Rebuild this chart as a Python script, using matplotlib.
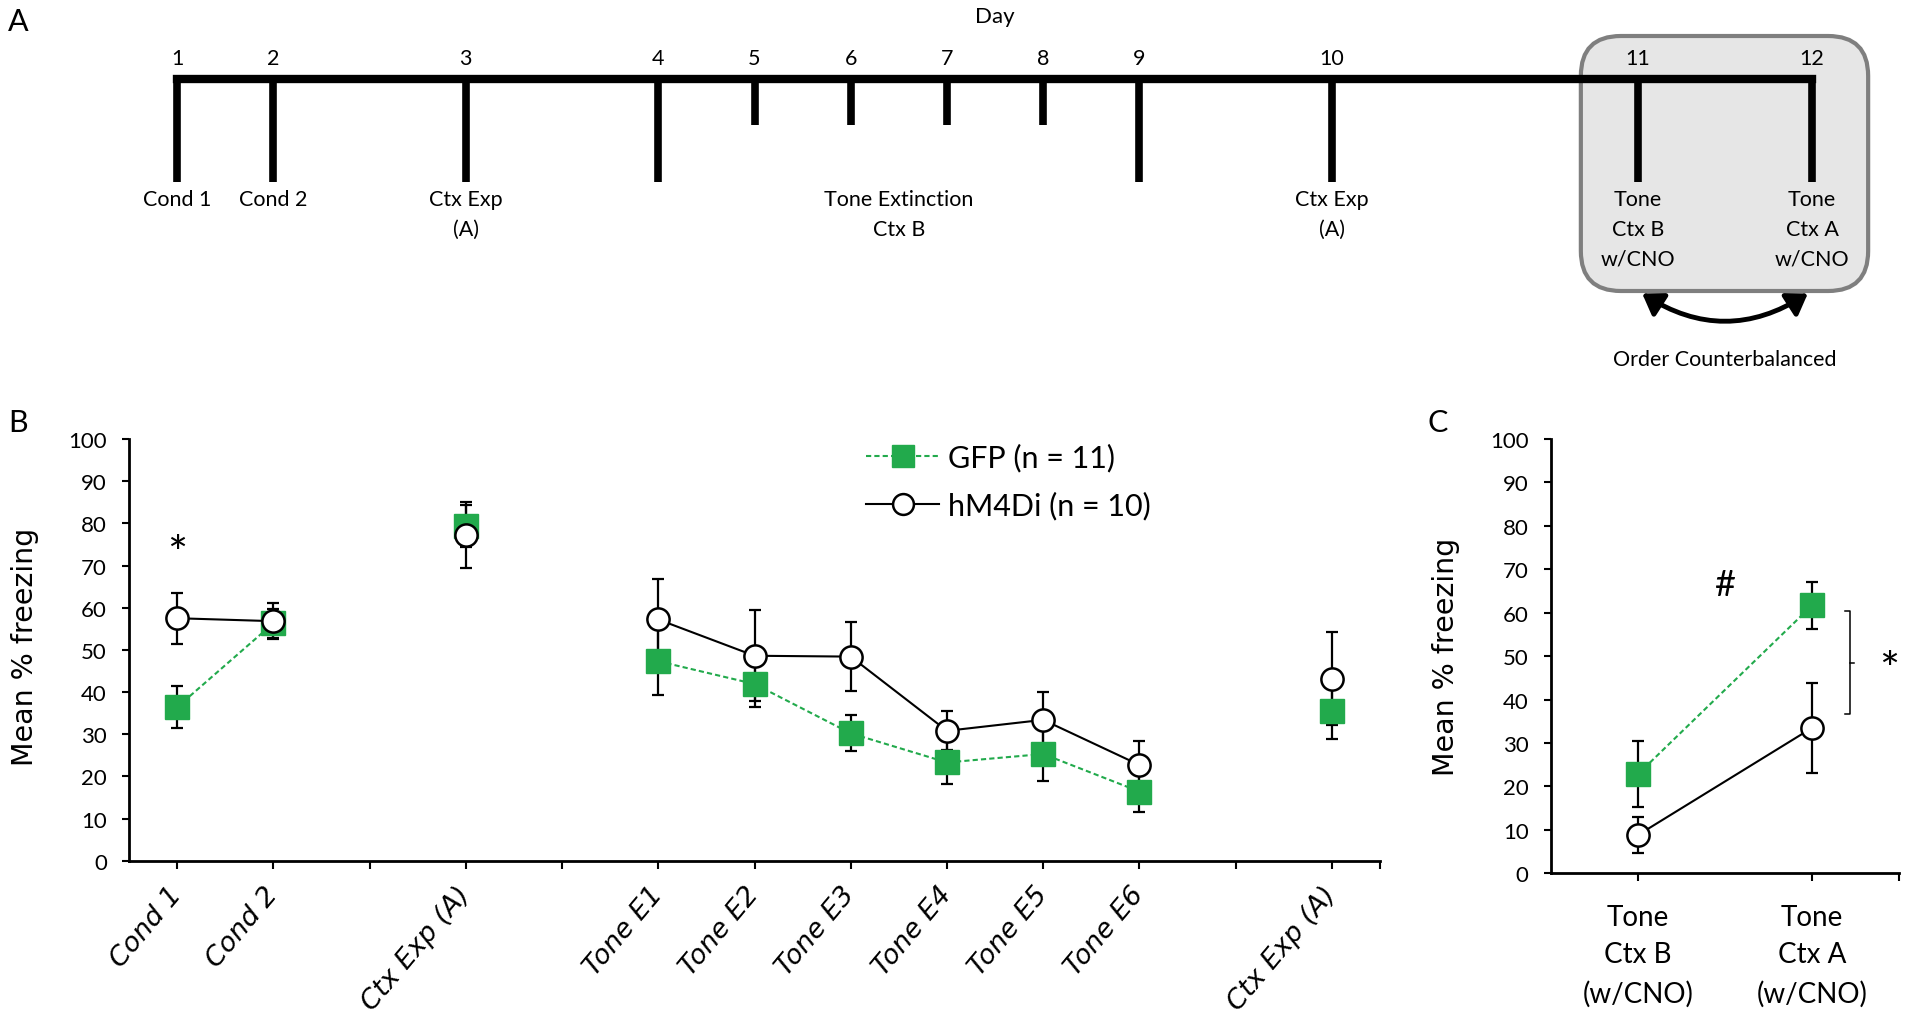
import matplotlib
matplotlib.use("Agg")
import matplotlib.pyplot as plt
from matplotlib.lines import Line2D
from matplotlib.patches import FancyBboxPatch, FancyArrowPatch
import numpy as np

W, H = 1911, 1020
GREEN = "#22aa4c"

# ---- panel B data (category positions, gaps left at 3, 5 and 12)
b_positions = [1, 2, 4, 6, 7, 8, 9, 10, 11, 13]
b_tick_labels = ["Cond 1", "Cond 2", "", "Ctx Exp (A)", "", "Tone E1", "Tone E2",
                 "Tone E3", "Tone E4", "Tone E5", "Tone E6", "", "Ctx Exp (A)"]
gfp_b = [36.4, 56.3, 79.4, 47.3, 41.9, 30.2, 23.3, 25.3, 16.4, 35.4]
gfp_b_err = [5.0, 3.5, 5.0, 8.0, 5.5, 4.3, 5.0, 6.5, 4.8, 6.6]
hm4di_b = [57.5, 56.8, 77.2, 57.2, 48.6, 48.4, 30.8, 33.4, 22.7, 43.2]
hm4di_b_err = [6.0, 4.2, 7.8, 9.6, 10.8, 8.2, 4.6, 6.5, 5.6, 11.0]

# ---- panel C data
c_positions = [1, 2]
c_tick_labels = ["Tone\nCtx B\n(w/CNO)", "Tone\nCtx A\n(w/CNO)"]
gfp_c = [22.8, 61.7]
gfp_c_err = [7.6, 5.4]
hm4di_c = [8.8, 33.5]
hm4di_c_err = [4.1, 10.4]

legend_labels = ["GFP (n = 11)", "hM4Di (n = 10)"]

# ---- panel A timeline
days = list(range(1, 13))
day_long = [True, True, True, True, False, False, False, False, True, True, True, True]
day_labels = {1: "Cond 1", 2: "Cond 2", 3: "Ctx Exp\n(A)", 10: "Ctx Exp\n(A)",
              11: "Tone\nCtx B\nw/CNO", 12: "Tone\nCtx A\nw/CNO"}
extinction_days = (4, 9)
extinction_label = "Tone Extinction\nCtx B"

plt.rcParams["font.family"] = ["Lato", "DejaVu Sans"]

fig = plt.figure(figsize=(W / 100, H / 100), dpi=100)
ax_b = fig.add_axes([129 / W, 1 - 861.7 / H, (1380 - 129) / W, (861.7 - 440) / H])
ax_c = fig.add_axes([1550.7 / W, 1 - 874.3 / H, (1899.3 - 1550.7) / W, (874.3 - 440) / H])


def style_axis(ax):
    for s in ("top", "right"):
        ax.spines[s].set_visible(False)
    for s in ("left", "bottom"):
        ax.spines[s].set_linewidth(2)
    ax.set_ylim(0, 100)
    ax.set_yticks(range(0, 101, 10))
    ax.tick_params(axis="y", length=5, width=1.5, pad=11, labelsize=16)
    ax.tick_params(axis="x", length=6, width=1.5)
    ax.set_ylabel("Mean % freezing", fontsize=20.5, family="DejaVu Sans")


def groups(pos):
    # consecutive category positions are joined by a line
    pos = np.asarray(pos)
    return np.split(np.arange(len(pos)), np.where(np.diff(pos) > 1)[0] + 1)


def draw_series(ax, pos, mean, err, kind, z):
    pos = np.asarray(pos, dtype=float)
    mean = np.asarray(mean, dtype=float)
    ax.errorbar(pos, mean, yerr=err, fmt="none", ecolor="black", elinewidth=1.6,
                capsize=4.5, capthick=1.6, zorder=2)
    for g in groups(pos):
        if len(g) < 2:
            continue
        if kind == "gfp":
            ax.plot(pos[g], mean[g], color=GREEN, lw=1.5, ls=(0, (2.5, 1.5)), zorder=z)
        else:
            ax.plot(pos[g], mean[g], color="black", lw=1.5, zorder=z)
    if kind == "gfp":
        ax.plot(pos, mean, ls="none", marker="s", ms=17, mfc=GREEN, mec=GREEN, zorder=z + 1)
    else:
        ax.plot(pos, mean, ls="none", marker="o", ms=16, mfc="white", mec="black",
                mew=1.8, zorder=z + 1)


# ---------------- B
style_axis(ax_b)
ax_b.set_xlim(0.5, len(b_tick_labels) + 0.5)
ax_b.set_xticks(list(range(1, len(b_tick_labels) + 1)) + [len(b_tick_labels) + 0.5])
ax_b.set_xticklabels(b_tick_labels + [""], family="DejaVu Sans", style="italic", fontsize=19.5)
plt.setp(ax_b.get_xticklabels(), rotation=50, ha="right", va="center", rotation_mode="anchor")
ax_b.tick_params(axis="x", pad=15)
ax_b.yaxis.set_label_coords(-0.072, 0.51)
draw_series(ax_b, b_positions, gfp_b, gfp_b_err, "gfp", 3)
draw_series(ax_b, b_positions, hm4di_b, hm4di_b_err, "hm4di", 5)
ax_b.text(1, 72.5, "*", ha="center", va="center", fontsize=34)

handles = [
    Line2D([], [], color=GREEN, lw=1.5, ls=(0, (2.5, 1.5)), marker="s", ms=16, mfc=GREEN, mec=GREEN),
    Line2D([], [], color="black", lw=1.5, marker="o", ms=15, mfc="white", mec="black", mew=1.8),
]
ax_b.legend(handles, legend_labels, loc="upper left", bbox_to_anchor=(0.589, 0.99),
            frameon=False, fontsize=22, handlelength=2.4, handletextpad=0.3,
            borderpad=0, borderaxespad=0, labelspacing=0.62)

# ---------------- C
style_axis(ax_c)
ax_c.set_xlim(0.5, len(c_positions) + 0.5)
ax_c.set_xticks(c_positions + [len(c_positions) + 0.5])
ax_c.set_xticklabels(c_tick_labels + [""], fontsize=20, linespacing=1.55)
ax_c.tick_params(axis="x", pad=16)
ax_c.yaxis.set_label_coords(-0.26, 0.5)
draw_series(ax_c, c_positions, gfp_c, gfp_c_err, "gfp", 3)
draw_series(ax_c, c_positions, hm4di_c, hm4di_c_err, "hm4di", 5)
ax_c.text(1.5, 66.4, "#", ha="center", va="center", fontsize=26)
bracket_lo, bracket_hi, bracket_x = 36.7, 60.3, 2.22
ax_c.plot([bracket_x - 0.03, bracket_x, bracket_x, bracket_x - 0.03],
          [bracket_hi, bracket_hi, bracket_lo, bracket_lo], color="black", lw=1.1, clip_on=False)
ax_c.plot([bracket_x, bracket_x + 0.02], [(bracket_lo + bracket_hi) / 2] * 2,
          color="black", lw=1.1, clip_on=False)
ax_c.text(2.44, 46.5, "*", ha="center", va="center", fontsize=34, clip_on=False)

# ---------------- A (timeline, drawn in pixel units over the whole figure)
ax_a = fig.add_axes([0, 0, 1, 1], zorder=10)
ax_a.set_xlim(0, W)
ax_a.set_ylim(H, 0)
ax_a.axis("off")

day_axes = [ax_b] * len(b_positions) + [ax_c] * len(c_positions)
day_pos = b_positions + c_positions
day_x = [a.transData.transform((p, 0))[0] for a, p in zip(day_axes, day_pos)]

line_y, long_y, short_y = 80, 183, 126
ax_a.plot([day_x[0], day_x[-1]], [line_y, line_y], color="black", lw=6,
          solid_capstyle="projecting", zorder=3)
for d, x, long in zip(days, day_x, day_long):
    ax_a.plot([x, x], [line_y, long_y if long else short_y], color="black", lw=5.5,
              solid_capstyle="butt", zorder=3)
    ax_a.text(x, 59, str(d), ha="center", va="center", fontsize=15.5)
    if d in day_labels:
        ax_a.text(x, 190, day_labels[d], ha="center", va="top", fontsize=15.5, linespacing=1.6)

x4, x9 = day_x[days.index(extinction_days[0])], day_x[days.index(extinction_days[1])]
ax_a.text((x4 + x9) / 2, 190, extinction_label, ha="center", va="top", fontsize=15.5,
          linespacing=1.6)
ax_a.text((day_x[0] + day_x[-1]) / 2, 17, "Day", ha="center", va="center", fontsize=16)

x11, x12 = day_x[-2], day_x[-1]
box = FancyBboxPatch((x11 - 57, 37), (x12 + 56) - (x11 - 57), 255,
                     boxstyle="round,pad=0,rounding_size=40", fc="#e6e6e6", ec="#7f7f7f",
                     lw=3, zorder=1)
ax_a.add_patch(box)
arrow = FancyArrowPatch((x11 + 2, 293), (x12 - 2, 293), connectionstyle="arc3,rad=0.33",
                        arrowstyle="<|-|>,head_length=0.6,head_width=0.4", mutation_scale=20,
                        lw=3.5, color="black", zorder=3)
ax_a.add_patch(arrow)
ax_a.text((x11 + x12) / 2, 360, "Order Counterbalanced", ha="center", va="center", fontsize=15.5)

ax_a.text(18, 22, "A", ha="center", va="center", fontsize=22)
ax_a.text(18, 423, "B", ha="center", va="center", fontsize=22)
ax_a.text(1438, 423, "C", ha="center", va="center", fontsize=22)

fig.savefig("out.png", dpi=100)
